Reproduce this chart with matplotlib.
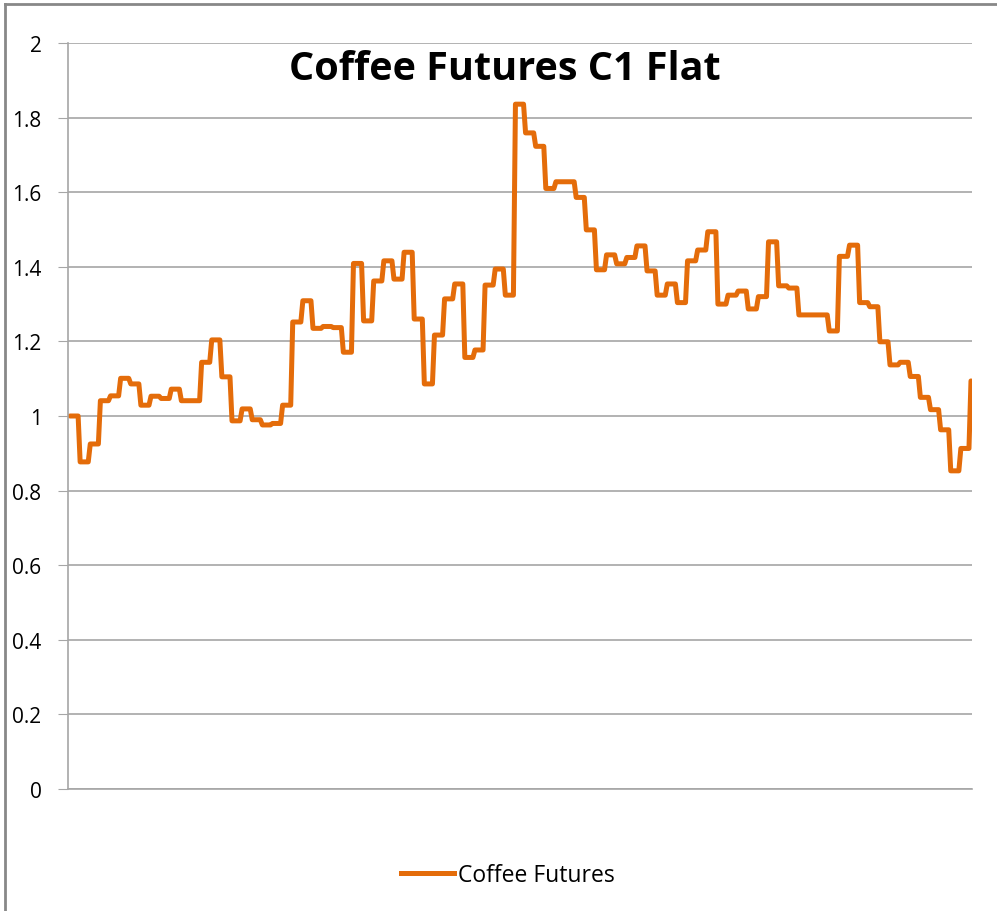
"""Coffee Futures C1 Flat - line chart recreation"""

import numpy as np
import matplotlib
matplotlib.use("Agg")
import matplotlib.pyplot as plt
from matplotlib.lines import Line2D

TITLE = "Coffee Futures C1 Flat"
SERIES_NAME = "Coffee Futures"

# monthly flat levels (each held for a period)
levels = [
    1.000, 0.877, 0.925, 1.041, 1.054, 1.101, 1.086, 1.029, 1.053, 1.047,
    1.072, 1.041, 1.041, 1.144, 1.204, 1.105, 0.987, 1.019, 0.990, 0.976,
    0.980, 1.029, 1.252, 1.309, 1.235, 1.240, 1.237, 1.171, 1.409, 1.255,
    1.362, 1.416, 1.367, 1.439, 1.260, 1.086, 1.217, 1.314, 1.354, 1.157,
    1.177, 1.351, 1.394, 1.324, 1.836, 1.759, 1.723, 1.610, 1.628, 1.628,
    1.586, 1.499, 1.392, 1.432, 1.408, 1.425, 1.456, 1.389, 1.324, 1.354,
    1.304, 1.416, 1.445, 1.494, 1.300, 1.324, 1.335, 1.287, 1.320, 1.467,
    1.349, 1.343, 1.271, 1.271, 1.271, 1.228, 1.428, 1.458, 1.304, 1.293,
    1.199, 1.137, 1.144, 1.106, 1.050, 1.017, 0.963, 0.853, 0.913,
]
last_value = 1.094
points_per_level = 5

y_ticks = [0, 0.2, 0.4, 0.6, 0.8, 1, 1.2, 1.4, 1.6, 1.8, 2]
y_labels = ["0", "0.2", "0.4", "0.6", "0.8", "1", "1.2", "1.4", "1.6", "1.8", "2"]

ORANGE = "#E46C0A"
GRID = "#A6A6A6"

values = np.append(np.repeat(levels, points_per_level), last_value)
x = np.arange(len(values))

W, H = 997, 912
fig = plt.figure(figsize=(W / 100, H / 100), dpi=100)
ax = fig.add_axes([68 / W, 1 - 790 / H, (972 - 68) / W, (790 - 44) / H])

ax.plot(x, values, color=ORANGE, linewidth=3.6, solid_joinstyle="round",
        solid_capstyle="round")

ax.set_xlim(-1, len(values) - 0.5)
ax.set_ylim(0, 2)
ax.set_yticks(y_ticks)
ax.set_yticklabels(y_labels, fontsize=15, family="Open Sans")
ax.set_xticks([])
ax.yaxis.grid(True, color=GRID, linewidth=1.2)
ax.set_axisbelow(True)
ax.tick_params(axis="y", length=7, color=GRID, pad=12)
for side in ("top", "right"):
    ax.spines[side].set_visible(False)
ax.spines["left"].set_color(GRID)
ax.spines["bottom"].set_color(GRID)
ax.spines["left"].set_linewidth(1.2)
ax.spines["bottom"].set_linewidth(1.2)

fig.text(505 / W, 1 - 70 / H, TITLE, ha="center", va="center",
         fontsize=28.5, fontweight="bold", family="Open Sans")

# legend below the plot area
handle = Line2D([0], [0], color=ORANGE, linewidth=3.6)
fig.legend([handle], [SERIES_NAME], loc="center", frameon=False,
           bbox_to_anchor=(508 / W, 1 - 876 / H),
           prop={"family": "Open Sans", "size": 16.5},
           handlelength=2.3, handletextpad=0.2)

# outer chart border (top and left visible)
fig.add_artist(Line2D([5 / W, 5 / W], [0, 1 - 5 / H], color="#888888",
                      linewidth=2, transform=fig.transFigure))
fig.add_artist(Line2D([5 / W, 1], [1 - 5 / H, 1 - 5 / H], color="#888888",
                      linewidth=2, transform=fig.transFigure))

fig.savefig("out.png", dpi=100)
